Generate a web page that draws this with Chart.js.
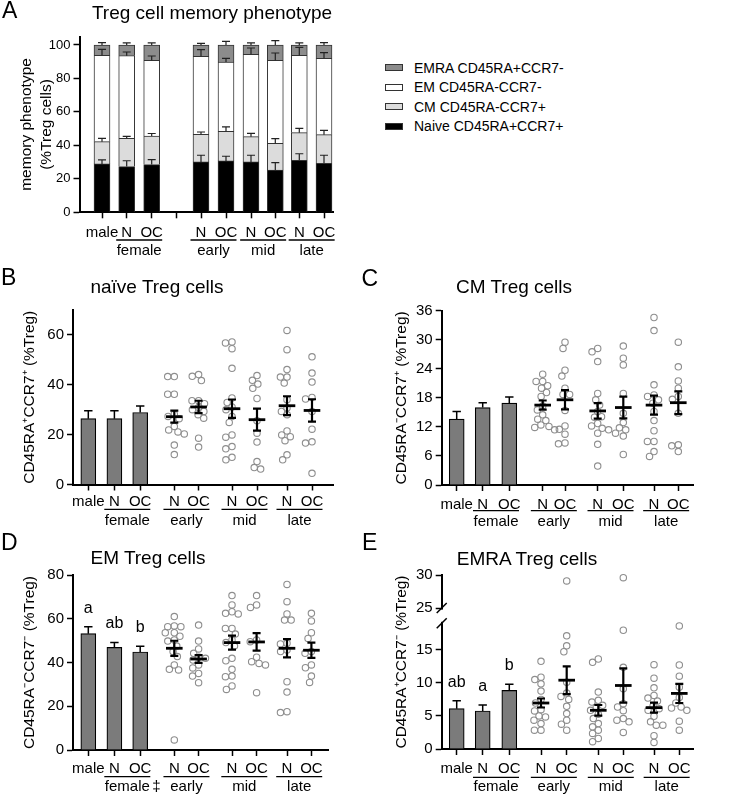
<!DOCTYPE html>
<html><head><meta charset="utf-8">
<script src="https://cdn.jsdelivr.net/npm/chart.js@4.4.1/dist/chart.umd.min.js"></script>
<style>
html,body{margin:0;padding:0;background:#fff;}
body{width:733px;height:795px;position:relative;overflow:hidden;font-family:'Liberation Sans',Arial,Helvetica,sans-serif;color:#000;}
canvas{position:absolute;}
.t{position:absolute;white-space:nowrap;line-height:1;}
.box{position:absolute;box-sizing:border-box;border:1px solid #333;}
</style></head><body>
<canvas id="cA" width="360" height="265" style="left:0px;top:0px"></canvas>
<canvas id="cB" width="360" height="265" style="left:0px;top:270px"></canvas>
<canvas id="cC" width="373" height="265" style="left:360px;top:270px"></canvas>
<canvas id="cD" width="360" height="265" style="left:0px;top:530px"></canvas>
<canvas id="cE" width="373" height="265" style="left:360px;top:530px"></canvas>
<script>
// ================= DATA =================
const subgroupLabels = ['male', 'N', 'OC', 'N', 'OC', 'N', 'OC', 'N', 'OC'];
const groupLabels = ['female', 'early', 'mid', 'late'];
const phenotypeNames = ['EMRA CD45RA+CCR7-', 'EM CD45RA-CCR7-', 'CM CD45RA-CCR7+', 'Naive CD45RA+CCR7+'];

// Panel A: stacked memory phenotype (% Treg), mean and SEM per segment
const naiveStack = [28.9, 27.3, 28.5, 30.1, 30.7, 30.1, 25.3, 31.1, 29.3];
const cmStack    = [13.3, 16.9, 17.1, 16.5, 17.7, 15.1, 15.9, 16.5, 17.1];
const emStack    = [51.6, 49.4, 45.2, 46.6, 41.4, 49.2, 49.6, 46.2, 45.6];
const emraStack  = [6.2, 6.4, 9.2, 6.8, 10.2, 5.6, 9.2, 6.2, 8.0];
const naiveStackSem = [2.4, 3.5, 3.0, 4.0, 2.8, 4.0, 4.4, 3.9, 4.8];
const cmStackSem    = [2.0, 1.2, 1.5, 1.4, 2.6, 2.0, 2.8, 2.6, 2.6];
const emStackSem    = [3.6, 2.2, 2.6, 4.0, 2.2, 3.8, 4.4, 4.8, 3.4];
const emraStackSem  = [1.4, 1.2, 1.2, 1.0, 2.2, 1.2, 2.6, 1.2, 1.4];
const ticksA = [0, 20, 40, 60, 80, 100];

// Panel B: naive
const naiveBars = [26.4, 26.4, 28.9];
const naiveBarsSem = [3.2, 3.2, 2.6];
const naivePoints = [
  [43.3, 43.3, 36.2, 36.2, 28.2, 27.3, 26.4, 23.3, 21.9, 21.1, 20.3, 15.8, 12.0],
  [44.1, 43.4, 41.7, 33.6, 33.6, 32.4, 30.9, 30.0, 29.3, 28.0, 26.6, 18.6, 15.0],
  [56.8, 57.2, 54.5, 46.6, 34.7, 32.9, 31.1, 30.0, 27.3, 24.9, 19.9, 19.0, 15.2, 14.3, 10.9, 9.9],
  [43.7, 41.8, 40.3, 38.6, 34.5, 25.6, 20.6, 17.0, 9.2, 6.2, 6.8],
  [61.8, 54.1, 46.1, 43.1, 43.1, 40.7, 34.0, 30.7, 29.3, 28.0, 21.5, 19.9, 19.2, 17.6, 11.9, 9.9],
  [51.2, 44.7, 41.1, 34.9, 34.3, 29.3, 22.2, 17.1, 16.6, 4.5]
];
const naiveMeans = [27.2, 31.1, 30.4, 26.0, 31.6, 29.7];
const naiveSems  = [2.4, 2.5, 3.7, 4.4, 3.8, 4.5];
const ticksB = [0, 20, 40, 60];

// Panel C: CM
const cmBars = [13.6, 16.0, 16.9];
const cmBarsSem = [1.6, 1.0, 1.3];
const cmPoints = [
  [22.9, 21.4, 21.4, 20.5, 20.0, 19.1, 18.3, 16.3, 15.5, 14.5, 13.6, 13.3, 12.4, 12.1, 11.9, 11.4],
  [29.5, 28.2, 23.7, 22.5, 20.0, 18.7, 18.7, 15.4, 12.2, 11.5, 10.5, 8.7, 8.5],
  [28.2, 27.5, 25.5, 18.9, 17.6, 16.5, 15.2, 14.1, 14.0, 12.7, 12.2, 11.7, 11.4, 10.7, 8.4, 3.9],
  [28.7, 26.2, 24.8, 18.9, 14.8, 12.9, 11.8, 11.4, 10.7, 10.1, 6.3],
  [34.6, 31.9, 20.7, 18.6, 18.3, 17.6, 16.9, 15.2, 13.3, 11.2, 9.0, 9.0, 6.9, 5.9],
  [29.5, 24.4, 21.5, 20.0, 18.3, 17.7, 14.8, 8.3, 8.1, 6.9]
];
const cmMeans = [16.5, 17.6, 15.3, 16.0, 16.5, 17.0];
const cmSems  = [0.95, 2.0, 1.6, 2.25, 1.95, 2.35];
const ticksC = [0, 6, 12, 18, 24, 30, 36];

// Panel D: EM
const emBars = [53.2, 46.9, 44.8];
const emBarsSem = [3.2, 2.3, 2.6];
const emLetters = ['a', 'ab', 'b'];
const emPoints = [
  [61.0, 56.7, 56.4, 56.4, 53.6, 53.6, 52.0, 50.3, 49.8, 47.5, 45.0, 42.7, 38.9, 36.9, 36.6, 4.6],
  [57.1, 49.8, 46.2, 44.2, 42.4, 41.9, 41.1, 38.9, 37.5, 35.0, 33.8, 30.8],
  [70.6, 66.3, 63.2, 62.5, 62.2, 55.6, 55.6, 53.0, 50.3, 49.1, 47.5, 41.9, 40.8, 36.9, 33.8, 33.5, 29.3, 27.7],
  [70.6, 66.3, 65.2, 50.3, 49.5, 42.4, 40.4, 39.6, 38.9, 26.2],
  [75.7, 67.8, 62.2, 59.4, 59.4, 48.8, 48.5, 45.7, 45.0, 31.2, 26.5, 17.5, 17.1],
  [62.5, 59.0, 53.6, 51.0, 45.0, 44.2, 38.9, 37.6, 33.8, 30.9]
];
const emMeans = [46.5, 41.6, 49.1, 49.4, 46.5, 45.6];
const emSems  = [3.45, 1.75, 3.2, 4.0, 4.2, 3.45];
const ticksD = [0, 20, 40, 60, 80];

// Panel E: EMRA (broken y axis)
const emraBars = [6.1, 5.75, 8.85];
const emraBarsSem = [1.2, 0.9, 0.95];
const emraLetters = ['ab', 'a', 'b'];
const emraPoints = [
  [13.25, 10.85, 10.5, 9.85, 8.75, 7.5, 6.95, 5.95, 5.75, 5.0, 4.85, 4.35, 3.85, 2.85, 2.85],
  [29.1, 17.1, 15.6, 14.7, 10.1, 8.45, 7.95, 7.5, 6.45, 5.35, 4.35, 3.75, 2.85],
  [13.6, 13.1, 8.6, 7.35, 7.1, 6.6, 6.35, 5.85, 5.25, 4.6, 3.85, 3.35, 2.85, 2.35, 1.6, 1.1],
  [29.6, 17.95, 12.35, 9.1, 6.85, 6.35, 5.8, 4.6, 4.1, 4.35, 2.5],
  [12.75, 10.7, 9.25, 8.1, 7.7, 7.25, 6.5, 6.1, 5.85, 4.95, 4.1, 3.6, 3.6, 2.0, 1.0],
  [18.6, 12.7, 11.0, 9.35, 7.8, 6.95, 6.35, 6.2, 5.85, 4.2, 2.85]
];
const emraMeans = [6.95, 10.4, 5.85, 9.6, 6.25, 8.4];
const emraSems  = [0.68, 2.1, 0.8, 2.6, 0.75, 1.45];
const ticksE = [0, 5, 10, 15, 25, 30];
const emraBreak = [19, 25]; // axis break between these values

// ================= STYLE / LAYOUT =================
const FONT = "'Liberation Sans', Arial, Helvetica, sans-serif";
Chart.defaults.font.family = FONT;
Chart.defaults.color = '#000';

function addText(txt, x, baseline, size, align) {
  const d = document.createElement('div');
  d.className = 't'; d.textContent = txt;
  d.style.fontSize = size + 'px';
  d.style.top = (baseline - 0.8465 * size) + 'px';
  d.style.left = x + 'px';
  if (align === 'center') d.style.transform = 'translateX(-50%)';
  document.body.appendChild(d);
}

// broken-axis transform for panel E
const breakGap = 2.3;
function brokenY(v) { return v <= emraBreak[0] ? v : emraBreak[0] + breakGap + (v - emraBreak[1]); }

function swarm(ypx, D) {
  const order = ypx.map((y, i) => i).sort((a, b) => ypx[a] - ypx[b]);
  const placed = []; const xo = new Array(ypx.length).fill(0);
  order.forEach(i => {
    const y = ypx[i];
    const cands = [0];
    placed.forEach(p => {
      const dy = Math.abs(p.y - y);
      if (dy < D) { const dx = Math.sqrt(D * D - dy * dy); cands.push(p.x + dx, p.x - dx); }
    });
    cands.sort((a, b) => Math.abs(a) - Math.abs(b) || a - b);
    let best = 0;
    for (const c of cands) {
      if (placed.every(p => (p.x - c) ** 2 + (p.y - y) ** 2 >= D * D - 0.01)) { best = c; break; }
    }
    placed.push({ x: best, y }); xo[i] = best;
  });
  return xo;
}

function axisCommon(tickFont, pad) {
  return {
    grid: { display: true, drawOnChartArea: false, drawTicks: true, tickLength: 6, tickWidth: 1.5, tickColor: '#000', offset: false },
    border: { display: true, color: '#000', width: 2 },
    ticks: { autoSkip: false, maxRotation: 0, minRotation: 0, padding: pad, color: '#000', font: { size: tickFont } }
  };
}

function drawGroups(ctx, X, base, xs, pairs, ulY, gY, dagger) {
  ctx.save();
  ctx.strokeStyle = '#000'; ctx.fillStyle = '#000'; ctx.lineWidth = 1.3;
  ctx.font = '15px ' + FONT; ctx.textAlign = 'center'; ctx.textBaseline = 'middle';
  pairs.forEach((pr, k) => {
    const c = (X.getPixelForValue(xs[pr[0]]) + X.getPixelForValue(xs[pr[1]])) / 2;
    ctx.beginPath(); ctx.moveTo(c - 23, base + ulY); ctx.lineTo(c + 23, base + ulY); ctx.stroke();
    ctx.fillText(groupLabels[k], c, base + gY);
    if (k === 0 && dagger) ctx.fillText('\u2021', c + 29, base + gY);
  });
  ctx.restore();
}

// ================= PANEL A =================
(function () {
  const W = 360, yW = 79.5, padR = 27, padT = 36.6, xH = 52.7;
  const L = W - padR - yW;
  const xs = [22.5, 47.2, 72.2, 96.7, 121.5, 146.5, 171.5, 195.8, 219.8, 244.5];
  const barIdx = [0, 1, 2, 4, 5, 6, 7, 8, 9];
  const tickLabels = ['male', 'N', 'OC', '', 'N', 'OC', 'N', 'OC', 'N', 'OC'];
  const stacks = [naiveStack, cmStack, emStack, emraStack];
  const sems = [naiveStackSem, cmStackSem, emStackSem, emraStackSem];
  const fills = ['#000000', '#dcdcdc', '#ffffff', '#8c8c8c'];
  const names = [phenotypeNames[3], phenotypeNames[2], phenotypeNames[1], phenotypeNames[0]];
  const decor = {
    id: 'decorA',
    afterDatasetsDraw(chart) {
      const ctx = chart.ctx, X = chart.scales.x, Y = chart.scales.y;
      ctx.save(); ctx.strokeStyle = '#222'; ctx.lineWidth = 1.2;
      barIdx.forEach((xi, i) => {
        let cum = 0;
        stacks.forEach((arr, k) => {
          cum += arr[i];
          const x = X.getPixelForValue(xs[xi]);
          const y0 = Y.getPixelForValue(cum), y1 = Y.getPixelForValue(cum + sems[k][i]);
          ctx.beginPath(); ctx.moveTo(x, y0); ctx.lineTo(x, y1);
          ctx.moveTo(x - 4, y1); ctx.lineTo(x + 4, y1); ctx.stroke();
        });
      });
      ctx.restore();
    },
    afterDraw(chart) {
      drawGroups(chart.ctx, chart.scales.x, chart.chartArea.bottom, xs, [[1, 2], [4, 5], [6, 7], [8, 9]], 27.7, 38.4, false);
    }
  };
  const ax = axisCommon(15, 5.4), ay = axisCommon(13, 3);
  new Chart(document.getElementById('cA'), {
    type: 'bar',
    data: {
      datasets: stacks.map((arr, k) => ({
        label: names[k],
        data: arr.map((v, i) => ({ x: xs[barIdx[i]], y: v })),
        backgroundColor: fills[k], borderColor: '#333', borderWidth: 1, barThickness: 16
      }))
    },
    options: {
      responsive: false, animation: false, events: [], devicePixelRatio: 1,
      layout: { padding: { left: 0, right: padR, top: padT, bottom: 0 } },
      plugins: { legend: { display: false }, tooltip: { enabled: false } },
      scales: {
        x: Object.assign(ax, {
          type: 'linear', min: 0, max: L, offset: false, stacked: true,
          afterBuildTicks: s => { s.ticks = xs.map(v => ({ value: v })); },
          afterFit: s => { s.height = xH; },
          ticks: Object.assign(ax.ticks, { callback: (v, i) => tickLabels[i] })
        }),
        y: Object.assign(ay, {
          type: 'linear', min: 0, max: 105, stacked: true,
          afterBuildTicks: s => { s.ticks = ticksA.map(v => ({ value: v })); },
          afterFit: s => { s.width = yW; },
          ticks: Object.assign(ay.ticks, { callback: (v, i) => String(ticksA[i]) }),
          title: { display: true, text: ['memory phenotype', '(%Treg cells)'], color: '#000',
                   font: { size: 15.5, lineHeight: 1.29 }, padding: { top: 16.7, bottom: 0 } }
        })
      }
    },
    plugins: [decor]
  });
})();

// ================= PANELS B-E =================
function makeDotPanel(p) {
  const L = p.W - p.padR - p.yW;
  const tf = p.tf || (v => v);
  const scatterPos = p.xs.slice(3);
  const decor = {
    id: 'decor' + p.id,
    afterDatasetsDraw(chart) {
      const ctx = chart.ctx, X = chart.scales.x, Y = chart.scales.y;
      ctx.save(); ctx.strokeStyle = '#000'; ctx.fillStyle = '#000';
      p.bars.forEach((v, i) => {
        const x = X.getPixelForValue(p.xs[i]);
        const y0 = Y.getPixelForValue(tf(v)), y1 = Y.getPixelForValue(tf(v + p.barSem[i]));
        ctx.lineWidth = 1.5;
        ctx.beginPath(); ctx.moveTo(x, y0); ctx.lineTo(x, y1);
        ctx.moveTo(x - 4.2, y1); ctx.lineTo(x + 4.2, y1); ctx.stroke();
        if (p.letters) {
          ctx.font = '16px ' + FONT; ctx.textAlign = 'center'; ctx.textBaseline = 'alphabetic';
          ctx.fillText(p.letters[i], x, y1 - 14);
        }
      });
      p.means.forEach((m, g) => {
        const x = X.getPixelForValue(scatterPos[g]);
        const ym = Y.getPixelForValue(tf(m));
        const ya = Y.getPixelForValue(tf(m + p.sems[g])), yb = Y.getPixelForValue(tf(m - p.sems[g]));
        ctx.lineWidth = 2.2;
        ctx.beginPath(); ctx.moveTo(x, ya); ctx.lineTo(x, yb);
        ctx.moveTo(x - 4, ya); ctx.lineTo(x + 4, ya);
        ctx.moveTo(x - 4, yb); ctx.lineTo(x + 4, yb); ctx.stroke();
        ctx.lineWidth = 2.8;
        ctx.beginPath(); ctx.moveTo(x - 8.3, ym); ctx.lineTo(x + 8.3, ym); ctx.stroke();
      });
      ctx.restore();
    },
    afterDraw(chart) {
      const ctx = chart.ctx, X = chart.scales.x, Y = chart.scales.y;
      drawGroups(ctx, X, chart.chartArea.bottom, p.xs, [[1, 2], [3, 4], [5, 6], [7, 8]], p.ulY, p.gY, p.dagger);
      if (p.broken) {
        const xa = chart.chartArea.left;
        const yLo = Y.getPixelForValue(emraBreak[0]), yHi = Y.getPixelForValue(brokenY(emraBreak[1]));
        ctx.save();
        ctx.fillStyle = '#fff'; ctx.fillRect(xa - 3, yHi + 1.5, 6, yLo - yHi - 3);
        ctx.strokeStyle = '#000'; ctx.lineWidth = 1.5;
        [yHi, yLo].forEach(y => { ctx.beginPath(); ctx.moveTo(xa - 5, y + 5); ctx.lineTo(xa + 5, y - 5); ctx.stroke(); });
        ctx.restore();
      }
    }
  };
  const ax = axisCommon(15, p.xPad), ay = axisCommon(15, 3);
  const chart = new Chart(document.getElementById(p.id), {
    type: 'bar',
    data: {
      datasets: [
        { type: 'bar', data: p.bars.map((v, i) => ({ x: p.xs[i], y: tf(v) })),
          backgroundColor: '#7b7b7b', borderColor: '#000', borderWidth: 1.2, barThickness: 15, order: 2 },
        { type: 'scatter', data: [], showLine: false, pointRadius: 3.2, pointBorderWidth: 1.1,
          pointBorderColor: '#8e8e8e', pointBackgroundColor: 'rgba(255,255,255,0)', clip: false, order: 1 }
      ]
    },
    options: {
      responsive: false, animation: false, events: [], devicePixelRatio: 1,
      layout: { padding: { left: 0, right: p.padR, top: p.padT, bottom: 0 } },
      plugins: { legend: { display: false }, tooltip: { enabled: false } },
      scales: {
        x: Object.assign(ax, {
          type: 'linear', min: 0, max: L, offset: false,
          afterBuildTicks: s => { s.ticks = p.xs.map(v => ({ value: v })); },
          afterFit: s => { s.height = p.xH; },
          ticks: Object.assign(ax.ticks, { callback: (v, i) => subgroupLabels[i] })
        }),
        y: Object.assign(ay, {
          type: 'linear', min: 0, max: tf(p.yMax),
          afterBuildTicks: s => { s.ticks = p.yTicks.map(v => ({ value: tf(v) })); },
          afterFit: s => { s.width = p.yW; },
          ticks: Object.assign(ay.ticks, { callback: (v, i) => String(p.yTicks[i]) }),
          title: { display: true, text: p.yTitle, color: '#000',
                   font: { size: 15.5, lineHeight: 1.2 }, padding: { top: p.titlePad, bottom: 0 } }
        })
      }
    },
    plugins: [decor]
  });
  // spread the dots horizontally (beeswarm) using the chart's own scales
  const X = chart.scales.x, Y = chart.scales.y;
  const unitPerPx = (X.max - X.min) / X.width;
  const pts = [];
  p.points.forEach((vals, g) => {
    const ypx = vals.map(v => Y.getPixelForValue(tf(v)));
    const off = swarm(ypx, 6.6);
    vals.forEach((v, k) => pts.push({ x: scatterPos[g] + off[k] * unitPerPx, y: tf(v) }));
  });
  chart.data.datasets[1].data = pts;
  chart.update('none');
}

makeDotPanel({ id: 'cB', W: 360, yW: 73, padR: 27, padT: 40, xH: 50.5, xPad: 2.5,
  xs: [15.3, 41.4, 67.2, 101.3, 125.6, 159, 184, 214, 239],
  bars: naiveBars, barSem: naiveBarsSem, points: naivePoints, means: naiveMeans, sems: naiveSems,
  yMax: 70, yTicks: ticksB, yTitle: 'CD45RA\u207ACCR7\u207A (%Treg)', titlePad: 20.7, ulY: 24.8, gY: 36.2 });

makeDotPanel({ id: 'cC', W: 373, yW: 81.7, padR: 40, padT: 40.7, xH: 50, xPad: 5,
  xs: [15, 41, 67.6, 101, 123.3, 156, 181.6, 212.3, 236.6],
  bars: cmBars, barSem: cmBarsSem, points: cmPoints, means: cmMeans, sems: cmSems,
  yMax: 36, yTicks: ticksC, yTitle: 'CD45RA\u207BCCR7\u207A (%Treg)', titlePad: 32.4, ulY: 25.7, gY: 36.7 });

makeDotPanel({ id: 'cD', W: 360, yW: 73, padR: 32, padT: 45, xH: 45, xPad: 3.4,
  xs: [15.3, 41.4, 67.2, 101.3, 125.6, 159, 183.6, 214, 238.4],
  bars: emBars, barSem: emBarsSem, points: emPoints, means: emMeans, sems: emSems, letters: emLetters,
  yMax: 80, yTicks: ticksD, yTitle: 'CD45RA\u207BCCR7\u207B (%Treg)', titlePad: 20, ulY: 26.7, gY: 37.3, dagger: true });

makeDotPanel({ id: 'cE', W: 373, yW: 81.7, padR: 40, padT: 45, xH: 46, xPad: 5.3,
  xs: [15, 41, 67.6, 99.3, 125, 156.6, 181.6, 212.3, 237.6],
  bars: emraBars, barSem: emraBarsSem, points: emraPoints, means: emraMeans, sems: emraSems, letters: emraLetters,
  yMax: 30, yTicks: ticksE, tf: brokenY, broken: true,
  yTitle: 'CD45RA\u207ACCR7\u207B (%Treg)', titlePad: 32.4, ulY: 28.3, gY: 38.3 });

// ================= TEXT: panel letters, titles, legend =================
addText('A', 2, 18.5, 23);
addText('Treg cell memory phenotype', 212, 19.5, 19, 'center');
addText('B', 1, 285, 23);
addText('na\u00efve Treg cells', 157, 292.7, 19, 'center');
addText('C', 361.5, 286, 23);
addText('CM Treg cells', 514, 292.7, 19, 'center');
addText('D', 1, 550, 23);
addText('EM Treg cells', 148, 564.3, 19, 'center');
addText('E', 362, 550.7, 23);
addText('EMRA Treg cells', 527, 565, 19, 'center');

const legendFills = ['#8c8c8c', '#ffffff', '#dcdcdc', '#000000'];
const legendRows = [67.5, 87, 106.5, 126];
phenotypeNames.forEach((name, i) => {
  const b = document.createElement('div');
  b.className = 'box';
  b.style.left = '385px'; b.style.top = (legendRows[i] - 3.5) + 'px';
  b.style.width = '18px'; b.style.height = '7px';
  b.style.background = legendFills[i];
  document.body.appendChild(b);
  addText(name, 414, legendRows[i] + 5, 14);
});
</script>
</body></html>
